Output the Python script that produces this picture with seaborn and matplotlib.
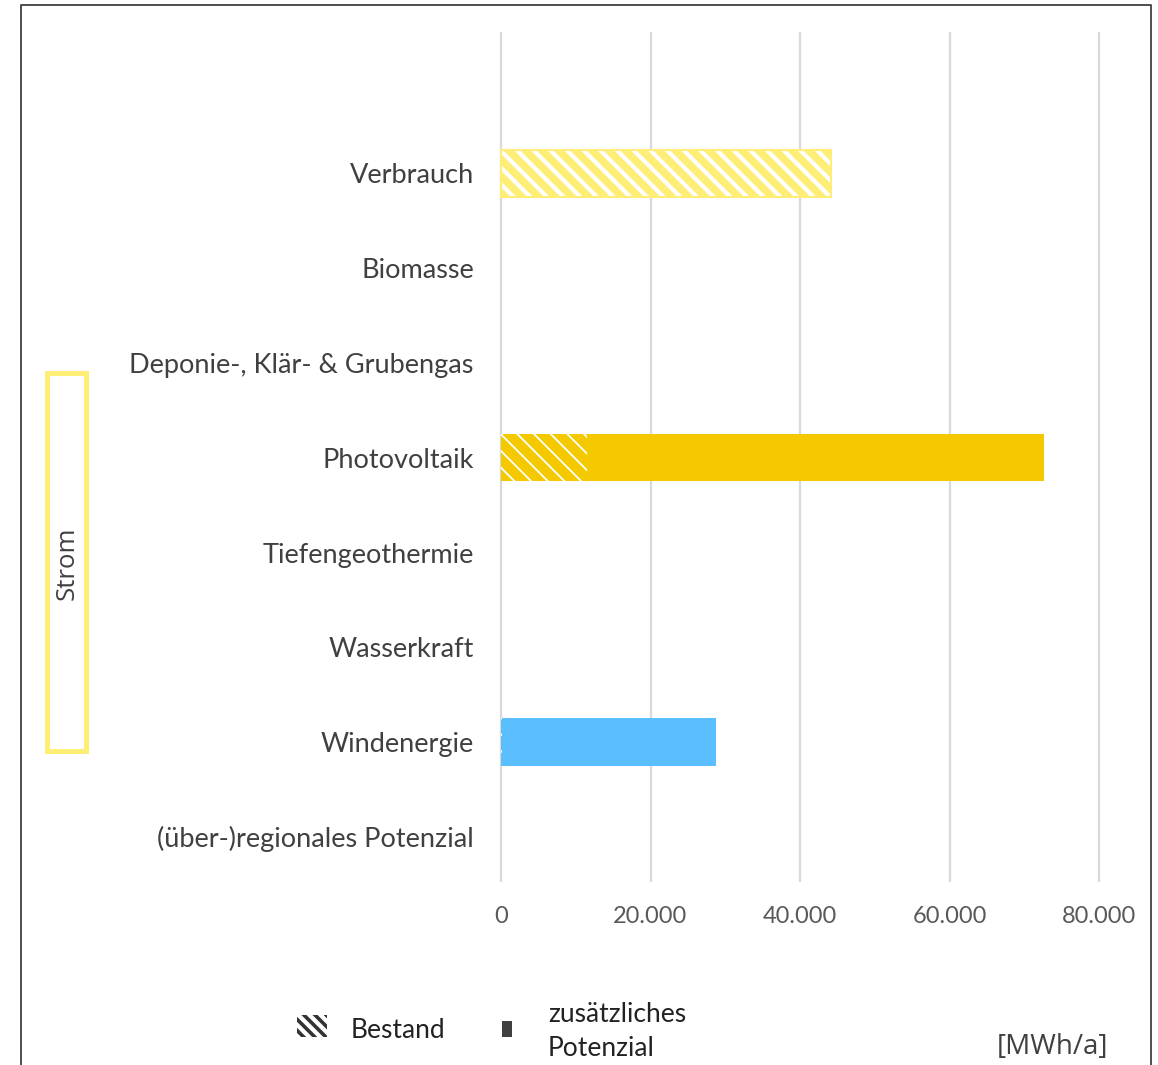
import matplotlib
matplotlib.use("Agg")
import matplotlib.pyplot as plt
from matplotlib.patches import Rectangle
from matplotlib.lines import Line2D
from matplotlib.ticker import FuncFormatter
import seaborn as sns
import pandas as pd

# --- data -----------------------------------------------------------------
kategorien = [
    "Verbrauch",
    "Biomasse",
    "Deponie-, Klär- & Grubengas",
    "Photovoltaik",
    "Tiefengeothermie",
    "Wasserkraft",
    "Windenergie",
    "(über-)regionales Potenzial",
]
bestand = [44100, 0, 0, 11500, 0, 0, 150, 0]          # MWh/a
zusaetzlich = [0, 0, 0, 61200, 0, 0, 28550, 0]        # MWh/a
farben = ["#FFEE75", "#F5C900", "#F5C900", "#F5C900",
          "#F5C900", "#5BBFFF", "#5BBFFF", "#A6A6A6"]
x_ticks = [0, 20000, 40000, 60000, 80000]

# --- style ----------------------------------------------------------------
sns.set_theme(style="white")
plt.rcParams["font.family"] = ["Lato", "DejaVu Sans"]
TXT = "#404040"
TICK = "#595959"

W, H = 1158, 1065
fig = plt.figure(figsize=(W / 100, H / 100), dpi=100)


def fx(x):
    return x / W


def fy(y):
    return 1 - y / H


# axes area in pixel positions
x0_px, x80_px = 501, 1099
px_per_unit = (x80_px - x0_px) / 80000
xmin, xmax = -300, 80300
left = x0_px + xmin * px_per_unit
right = x0_px + xmax * px_per_unit
top, bottom = 32, 882
ax = fig.add_axes([fx(left), fy(bottom), (right - left) / W, (bottom - top) / H])

df = pd.DataFrame({
    "Kategorie": kategorien,
    "Bestand": bestand,
    "Gesamt": [b + z for b, z in zip(bestand, zusaetzlich)],
})
pal = dict(zip(kategorien, farben))

# total (existing + additional potential) as solid bars
sns.barplot(data=df, y="Kategorie", x="Gesamt", hue="Kategorie",
            order=kategorien, hue_order=kategorien, palette=pal,
            legend=False, width=0.5, saturation=1, linewidth=0, ax=ax)
n_solid = len(ax.patches)

# existing share drawn on top with white diagonal hatch
sns.barplot(data=df, y="Kategorie", x="Bestand", hue="Kategorie",
            order=kategorien, hue_order=kategorien, palette=pal,
            legend=False, width=0.5, saturation=1, linewidth=0, ax=ax)
hatched = ax.patches[n_solid:]
for p, kat, col in zip(hatched, kategorien, farben):
    p.set_hatch("\\\\")
    p.set_edgecolor("white")
    p.set_linewidth(0)
    if hasattr(p, "set_hatch_linewidth"):
        p.set_hatch_linewidth(3.0 if kat == "Verbrauch" else 1.3)
    if kat == "Verbrauch":
        ax.add_patch(Rectangle(p.get_xy(), p.get_width(), p.get_height(),
                               fill=False, edgecolor=col, linewidth=1.5,
                               zorder=p.get_zorder() + 0.1))

# axes styling
ax.set_xlim(xmin, xmax)
ax.set_ylim(7 + 45 / 94.6, -141 / 94.6)
ax.set_xticks(x_ticks)
ax.xaxis.set_major_formatter(FuncFormatter(lambda v, _: f"{int(v):,}".replace(",", ".")))
ax.xaxis.grid(True, color="#D9D9D9", linewidth=1.6)
ax.yaxis.grid(False)
ax.set_axisbelow(True)
for s in ax.spines.values():
    s.set_visible(False)
ax.set_xlabel("")
ax.set_ylabel("")
ax.tick_params(axis="x", length=0, pad=17, labelsize=17, labelcolor=TICK)
ax.tick_params(axis="y", length=0, pad=18, labelsize=19.5, labelcolor=TXT)

# outer frame (open at the bottom)
fig.add_artist(Line2D([fx(21), fx(21), fx(1151), fx(1151)],
                      [fy(1070), fy(5), fy(5), fy(1070)],
                      color="#404040", linewidth=1.3))

# group box "Strom"
fig.add_artist(Rectangle((fx(46.5), fy(750.5)), (85.5 - 46.5) / W, (750.5 - 373.5) / H,
                         fill=False, edgecolor="#FFEE75", linewidth=3.6))
fig.text(fx(67), fy(563), "Strom", rotation=90, ha="center", va="center",
         fontsize=18.5, color=TXT, family=["Open Sans", "DejaVu Sans"])

# legend
leg_hatch = Rectangle((fx(297), fy(1037)), 30 / W, 22 / H, facecolor="white",
                      edgecolor="#333333", hatch="\\\\\\", linewidth=0)
if hasattr(leg_hatch, "set_hatch_linewidth"):
    leg_hatch.set_hatch_linewidth(2.6)
fig.add_artist(leg_hatch)
fig.text(fx(351), fy(1030), "Bestand", ha="left", va="center", fontsize=19, color="#222222")
fig.add_artist(Rectangle((fx(502), fy(1037)), 10 / W, 16 / H, facecolor="#404040",
                         edgecolor="none"))
fig.text(fx(548), fy(1014), "zusätzliches", ha="left", va="center", fontsize=19, color="#222222")
fig.text(fx(548), fy(1049), "Potenzial", ha="left", va="center", fontsize=19, color="#222222")

# unit
fig.text(fx(1108), fy(1047), "[MWh/a]", ha="right", va="center", fontsize=20,
         color=TXT, family=["Open Sans", "DejaVu Sans"])

fig.savefig("out.png", dpi=100)
